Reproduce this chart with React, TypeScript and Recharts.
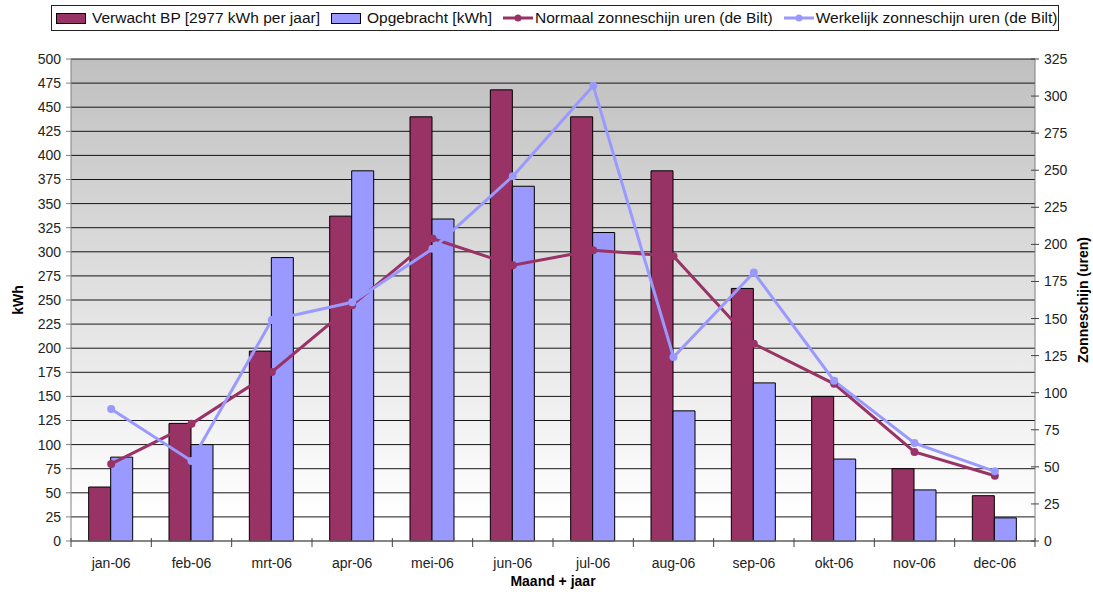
import React from 'react';
import {
  ComposedChart,
  Bar,
  Line,
  XAxis,
  YAxis,
  CartesianGrid,
  Legend,
} from 'recharts';

const months = ['jan-06', 'feb-06', 'mrt-06', 'apr-06', 'mei-06', 'jun-06', 'jul-06', 'aug-06', 'sep-06', 'okt-06', 'nov-06', 'dec-06'];
const verwacht = [56, 122, 197, 337, 440, 468, 440, 384, 262, 150, 75, 47];
const opgebracht = [87, 100, 294, 384, 334, 368, 320, 135, 164, 85, 53, 24];
const normaalZon = [52, 79, 114, 159, 204, 186, 196, 192, 133, 106, 60, 44];
const werkelijkZon = [89, 54, 149, 161, 197, 246, 307, 124, 181, 108, 66, 47];

const kwhTicks = Array.from({ length: 21 }, (_, i) => i * 25);
const urenTicks = Array.from({ length: 14 }, (_, i) => i * 25);

const data = months.map((m, i) => ({
  maand: m,
  verwacht: verwacht[i],
  opgebracht: opgebracht[i],
  normaal: normaalZon[i],
  werkelijk: werkelijkZon[i],
}));

const W = 1093;
const H = 592;
const MARGIN = { top: 59, right: 8, bottom: 0, left: 11 };
const LEFT_W = 60;
const RIGHT_W = 50;
const PLOT_W = W - MARGIN.left - LEFT_W - MARGIN.right - RIGHT_W;
const BAND = PLOT_W / months.length;

const MAROON = '#993366';
const LILAC = '#9999ff';
const FONT = '"Liberation Sans", Arial, sans-serif';
const AXIS_GRAY = '#808080';
const TICK_FS = 14;

// Excel style: tick marks between the categories, labels under the centre
const MonthTick = (props: any) => {
  const { x, y, payload, index } = props;
  const left = x - BAND / 2;
  const right = x + BAND / 2;
  return (
    <g>
      <line x1={left} x2={left} y1={y - 3} y2={y + 6} stroke="#444" />
      {index === months.length - 1 && (
        <line x1={right} x2={right} y1={y - 3} y2={y + 6} stroke="#444" />
      )}
      <text x={x} y={y + 27} textAnchor="middle" fontSize={TICK_FS} fill="#222" fontFamily={FONT}>
        {payload.value}
      </text>
    </g>
  );
};

const UrenTick = (props: any) => {
  const { x, y, payload } = props;
  return (
    <g>
      <line x1={x - 4} x2={x + 4} y1={y} y2={y} stroke="#444" />
      <text x={x + 9} y={y + 5} textAnchor="start" fontSize={TICK_FS} fill="#222" fontFamily={FONT}>
        {payload.value}
      </text>
    </g>
  );
};

const SideLabel = (dx: number, text: string) => (props: any) => {
  const { viewBox } = props;
  const cx = viewBox.x + dx;
  const cy = viewBox.y + viewBox.height / 2;
  return (
    <text
      x={cx}
      y={cy}
      transform={`rotate(-90 ${cx} ${cy})`}
      textAnchor="middle"
      dominantBaseline="central"
      fontSize={14}
      fontWeight="bold"
      fill="#000"
      fontFamily={FONT}
    >
      {text}
    </text>
  );
};

const legendItems = [
  { label: 'Verwacht BP [2977 kWh per jaar]', color: MAROON, kind: 'bar' },
  { label: 'Opgebracht [kWh]', color: LILAC, kind: 'bar' },
  { label: 'Normaal zonneschijn uren (de Bilt)', color: MAROON, kind: 'line' },
  { label: 'Werkelijk zonneschijn uren (de Bilt)', color: LILAC, kind: 'line' },
];

const LegendBox = () => (
  <div
    style={{
      display: 'flex',
      alignItems: 'center',
      height: 26,
      boxSizing: 'border-box',
      border: '1px solid #222',
      background: '#fff',
      padding: '0 4px',
      fontFamily: FONT,
      fontSize: 15.5,
      color: '#111',
      whiteSpace: 'nowrap',
    }}
  >
    {legendItems.map((it) => (
      <div key={it.label} style={{ display: 'flex', alignItems: 'center', marginRight: 11 }}>
        {it.kind === 'bar' ? (
          <div
            style={{
              width: 28,
              height: 9,
              background: it.color,
              border: '1px solid #000',
              marginRight: 6,
            }}
          />
        ) : (
          <svg width={30} height={10} style={{ marginRight: 2 }}>
            <line x1={0} x2={30} y1={5} y2={5} stroke={it.color} strokeWidth={3} />
            <circle cx={15} cy={5} r={3.5} fill={it.color} />
          </svg>
        )}
        <span>{it.label}</span>
      </div>
    ))}
  </div>
);

export default function App() {
  return (
    <div style={{ width: W, height: H }}>
      <style>{'body{margin:0}'}</style>
      <ComposedChart
        width={W}
        height={H}
        data={data}
        margin={MARGIN}
        barCategoryGap="22%"
        barGap={0}
      >
        <defs>
          <linearGradient id="plotShade" x1="0" y1="0" x2="0" y2="1">
            <stop offset="0%" stopColor="#c0c0c0" />
            <stop offset="95%" stopColor="#ffffff" />
            <stop offset="100%" stopColor="#ffffff" />
          </linearGradient>
        </defs>
        <CartesianGrid
          yAxisId="kwh"
          vertical={false}
          stroke="#000"
          strokeOpacity={0.9}
          fill="url(#plotShade)"
          fillOpacity={1}
        />
        <XAxis
          dataKey="maand"
          height={51}
          stroke={AXIS_GRAY}
          tickLine={false}
          tickSize={0}
          tickMargin={0}
          interval={0}
          tick={<MonthTick />}
          label={{
            value: 'Maand + jaar',
            position: 'insideBottom',
            offset: 6,
            fontSize: 14,
            fontWeight: 'bold',
            fill: '#000',
            fontFamily: FONT,
          }}
        />
        <YAxis
          yAxisId="kwh"
          width={LEFT_W}
          domain={[0, 500]}
          ticks={kwhTicks}
          interval={0}
          stroke={AXIS_GRAY}
          tickSize={5}
          tickMargin={5}
          tick={{ fontSize: TICK_FS, fill: '#222', fontFamily: FONT }}
          label={SideLabel(7, 'kWh')}
        />
        <YAxis
          yAxisId="uren"
          orientation="right"
          width={RIGHT_W}
          domain={[0, 325]}
          ticks={urenTicks}
          interval={0}
          stroke={AXIS_GRAY}
          tickLine={false}
          tickSize={0}
          tickMargin={0}
          tick={<UrenTick />}
          label={SideLabel(48, 'Zonneschijn (uren)')}
        />
        <Legend
          layout="horizontal"
          verticalAlign="middle"
          align="center"
          wrapperStyle={{ top: 5, left: 51, width: 1008, height: 26 }}
          content={<LegendBox />}
        />
        <Bar
          yAxisId="kwh"
          dataKey="verwacht"
          name="Verwacht BP [2977 kWh per jaar]"
          fill={MAROON}
          stroke="#000"
          strokeWidth={1}
          isAnimationActive={false}
        />
        <Bar
          yAxisId="kwh"
          dataKey="opgebracht"
          name="Opgebracht [kWh]"
          fill={LILAC}
          stroke="#000"
          strokeWidth={1}
          isAnimationActive={false}
        />
        <Line
          yAxisId="uren"
          dataKey="normaal"
          name="Normaal zonneschijn uren (de Bilt)"
          type="linear"
          stroke={MAROON}
          strokeWidth={3}
          dot={{ r: 4, fill: MAROON, stroke: 'none' }}
          activeDot={false}
          isAnimationActive={false}
        />
        <Line
          yAxisId="uren"
          dataKey="werkelijk"
          name="Werkelijk zonneschijn uren (de Bilt)"
          type="linear"
          stroke={LILAC}
          strokeWidth={3}
          dot={{ r: 4, fill: LILAC, stroke: 'none' }}
          activeDot={false}
          isAnimationActive={false}
        />
      </ComposedChart>
    </div>
  );
}
